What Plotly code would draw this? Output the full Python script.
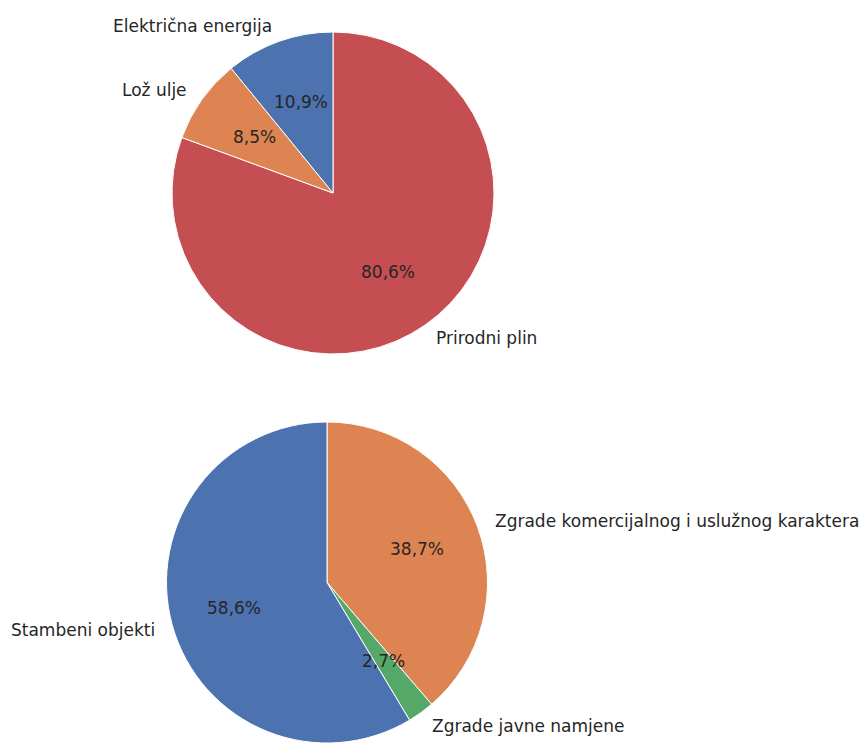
import math
import plotly.graph_objects as go

# Energy sources (top pie)
energy_labels = ["Električna energija", "Lož ulje", "Prirodni plin"]
energy_values = [10.9, 8.5, 80.6]
energy_colors = ["#4C72B0", "#DD8452", "#C44E52"]

# Building categories (bottom pie)
building_labels = ["Stambeni objekti", "Zgrade javne namjene",
                   "Zgrade komercijalnog i uslužnog karaktera"]
building_values = [58.6, 2.7, 38.7]
building_colors = ["#4C72B0", "#55A868", "#DD8452"]

W, H = 864, 743
FONT = "DejaVu Sans"
TEXT_COLOR = "#262626"
FONT_SIZE = 17

# pie geometry in pixels: centre x, centre y, radius
top_geom = (333, 193, 161)
bottom_geom = (327, 743 - 160.5, 160.5)


def domain_from(geom):
    cx, cy, r = geom
    return dict(x=[(cx - r) / W, (cx + r) / W],
                y=[max(0.0, 1 - (cy + r) / H), min(1.0, 1 - (cy - r) / H)])


def fmt_pct(v, total):
    return f"{100 * v / total:.1f}%".replace(".", ",")


def pie_annotations(labels, values, geom):
    cx, cy, r = geom
    total = sum(values)
    anns = []
    cum = 0.0
    for lab, v in zip(labels, values):
        theta = math.radians(90 + 360 * (cum + v / 2) / total)
        cum += v
        c, s = math.cos(theta), math.sin(theta)
        # category label just outside the rim
        lx, ly = cx + 1.1 * r * c, cy - 1.1 * r * s
        anns.append(dict(x=lx / W, y=1 - ly / H, xref="paper", yref="paper",
                         text=lab, showarrow=False,
                         xanchor="left" if c > 0 else "right", yanchor="middle",
                         font=dict(family=FONT, size=FONT_SIZE, color=TEXT_COLOR)))
        # percentage inside the slice
        px, py = cx + 0.6 * r * c, cy - 0.6 * r * s
        anns.append(dict(x=px / W, y=1 - py / H, xref="paper", yref="paper",
                         text=fmt_pct(v, total), showarrow=False,
                         xanchor="center", yanchor="middle",
                         font=dict(family=FONT, size=FONT_SIZE, color=TEXT_COLOR)))
    return anns


def pie_trace(labels, values, colors, geom):
    # slices run anticlockwise from 12 o'clock: feed them reversed, drawn clockwise
    return go.Pie(labels=labels[::-1], values=values[::-1], sort=False,
                  direction="clockwise", rotation=0,
                  marker=dict(colors=colors[::-1], line=dict(color="white", width=1)),
                  textinfo="none", hoverinfo="label+percent",
                  domain=domain_from(geom), showlegend=False)


fig = go.Figure()
fig.add_trace(pie_trace(energy_labels, energy_values, energy_colors, top_geom))
fig.add_trace(pie_trace(building_labels, building_values, building_colors, bottom_geom))

fig.update_layout(
    width=W, height=H,
    margin=dict(l=0, r=0, t=0, b=0),
    paper_bgcolor="white", plot_bgcolor="white",
    font=dict(family=FONT, size=FONT_SIZE, color=TEXT_COLOR),
    annotations=pie_annotations(energy_labels, energy_values, top_geom)
    + pie_annotations(building_labels, building_values, bottom_geom),
)

fig.write_html("out.html")
